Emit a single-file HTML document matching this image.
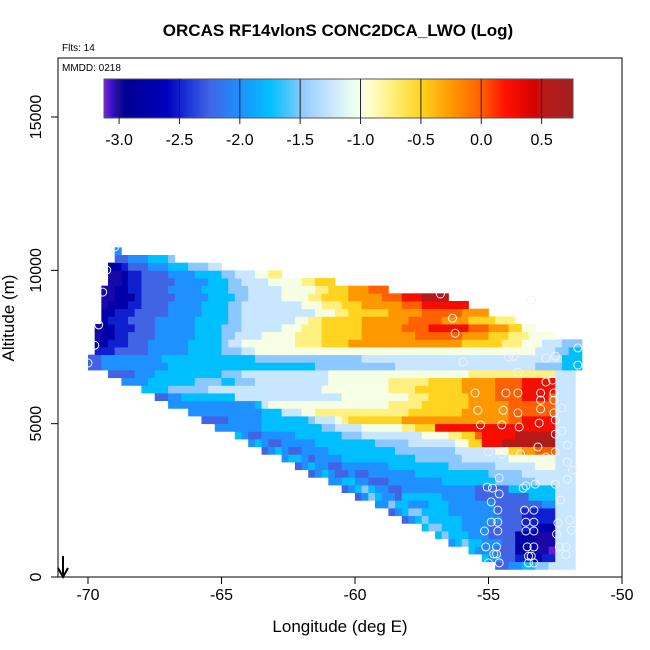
<!DOCTYPE html>
<html><head><meta charset="utf-8">
<style>
html,body{margin:0;padding:0;background:#fff;}
svg{display:block;font-family:"Liberation Sans",Arial,sans-serif;}
</style></head>
<body>
<svg id="chart" width="650" height="650" viewBox="0 0 650 650" xmlns="http://www.w3.org/2000/svg">
  <rect x="0" y="0" width="650" height="650" fill="#fff"/>
  <text x="338" y="36" text-anchor="middle" font-size="17" font-weight="bold">ORCAS RF14vlonS CONC2DCA_LWO (Log)</text>
  <text x="62" y="51" font-size="10">Flts: 14</text>
  <g id="cells"></g>
  <g id="circles"></g>
  <rect x="58" y="58" width="564" height="519" fill="none" stroke="#000" stroke-width="1"/>
  <text x="62" y="71" font-size="10">MMDD: 0218</text>
  <g id="cbar"></g>
  <g id="xaxis"></g>
  <g id="yaxis"></g>
  <text x="340" y="632" text-anchor="middle" font-size="17">Longitude (deg E)</text>
  <text x="0" y="0" transform="translate(14,318) rotate(-90)" text-anchor="middle" font-size="17">Altitude (m)</text>
  <g>
    <line x1="63" y1="556" x2="63" y2="576" stroke="#000" stroke-width="2"/>
    <polyline points="58,568 63,577 68,568" fill="none" stroke="#000" stroke-width="2"/>
  </g>
</svg>
<script>
// ---- data ----
const xTicks = [-70, -65, -60, -55, -50];
const yTicks = [0, 5000, 10000, 15000];
const cbarTicks = [-3.0, -2.5, -2.0, -1.5, -1.0, -0.5, 0.0, 0.5];
const lonStart = -70;
const lonStep = 0.25;
const altStep = 250;
// level chars: 0..F => -3.0 + 0.25*idx ; P => -3.1
// each row (alt bin index from 0): [startColumn, run-length "level*count" tokens]
const rowData = [
  null,
  [61, "3*2 4*2 5*2 6*2 7*4"],
  [59, "5*1 4*2 3*2 2*2 1*2 2*2 7*3"],
  [57, "5*1 4*3 3*3 1*3 0*2 P*1 7*3"],
  [54, "4*1 5*1 6*1 5*2 4*3 3*2 1*3 0*3 7*3"],
  [52, "5*1 6*1 5*3 4*3 3*4 1*3 0*3 7*3"],
  [50, "5*1 6*2 5*3 4*4 3*5 2*2 1*3 7*3"],
  [47, "3*1 4*1 5*1 6*1 5*5 4*6 3*3 2*5 7*3"],
  [45, "3*1 4*1 5*1 6*2 5*4 4*7 3*4 2*5 7*3"],
  [43, "4*2 6*1 5*2 4*3 5*3 4*7 3*7 4*2 7*3"],
  [40, "3*1 4*1 6*1 5*1 4*2 3*1 5*6 4*5 3*8 5*4 7*3"],
  [38, "3*1 4*1 5*1 6*1 5*1 4*2 3*2 4*11 3*5 5*7 7*3"],
  [36, "4*2 5*2 4*2 3*3 4*8 5*8 6*6 7*3 7*3"],
  [33, "3*1 4*1 5*1 4*1 3*2 4*1 3*2 4*7 5*11 6*5 7*5 7*3"],
  [31, "3*1 4*1 5*1 4*2 3*2 4*7 5*9 6*7 7*6 8*3 7*3"],
  [29, "4*1 5*2 4*1 3*1 4*4 5*11 6*7 7*7 8*7 7*3"],
  [26, "3*1 4*1 5*1 4*1 3*2 4*4 5*10 6*9 7*6 8*2 A*2 B*2 C*3 7*3"],
  [24, "4*1 5*1 4*1 3*2 4*5 5*9 6*5 7*7 8*2 A*2 D*3 E*5 F*3 7*3"],
  [22, "5*1 4*1 3*2 4*5 5*7 6*3 7*9 8*4 9*2 A*2 C*1 D*5 E*6 7*3"],
  [19, "4*7 5*9 6*2 7*4 8*6 9*2 A*3 D*18 7*3"],
  [17, "3*4 4*5 5*7 6*1 7*3 8*1 9*1 A*8 B*16 C*2 D*5 7*3"],
  [15, "4*11 5*3 7*3 8*2 9*14 A*8 B*7 C*7 7*3"],
  [12, "4*13 5*1 7*1 8*18 9*5 A*7 B*6 C*7 7*3"],
  [10, "3*2 4*2 5*8 7*16 8*10 9*3 A*6 B*4 C*4 D*4 C*1 7*3"],
  [8, "5*4 6*6 7*2 7*15 8*10 9*4 A*7 B*5 C*4 D*5 7*3"],
  [5, "4*4 5*7 6*4 5*2 6*3 7*11 8*9 9*6 A*5 B*5 C*4 D*5 7*3"],
  [3, "3*4 4*3 5*10 6*3 7*13 8*21 9*13 7*3"],
  [0, "3*2 4*10 5*8 5*14 6*12 7*21 6*4 5*3"],
  [0, "3*2 4*9 5*9 5*5 6*16 7*30 5*3"],
  [1, "2*3 3*5 4*6 5*5 6*3 7*2 8*42 7*3 6*2 5*2"],
  [1, "1*2 2*3 3*3 4*6 5*5 6*1 7*2 8*8 9*4 A*4 B*17 A*6 9*3 8*3 7*3 6*3"],
  [1, "0*1 1*2 2*2 3*4 4*6 5*4 6*2 7*4 8*5 9*4 A*6 B*8 C*7 B*4 A*3 9*3 8*4"],
  [1, "0*1 1*2 2*3 3*3 4*6 5*4 6*3 7*6 8*3 9*3 A*6 B*6 C*4 D*6 C*3 B*3 A*2 8*2"],
  [2, "1*1 2*3 3*4 4*6 5*4 5*1 6*2 7*8 8*2 9*2 A*6 B*7 C*5 B*4 A*4 9*3"],
  [2, "1*2 2*3 3*5 4*5 5*3 5*1 6*2 7*11 8*3 9*2 A*6 B*5 C*6 B*4"],
  [2, "0*1 1*3 2*2 3*4 4*5 5*3 5*1 6*2 7*9 8*3 9*3 A*3 B*6 C*3 D*7"],
  [2, "0*2 1*3 2*1 3*5 4*5 5*2 5*2 6*2 7*5 8*4 9*2 A*4 B*5 C*3 D*3 E*4"],
  [2, "0*2 1*2 2*2 3*4 4*5 5*3 5*1 6*3 7*5 8*5 9*2 A*3 B*3 C*3"],
  [3, "0*2 1*1 2*2 3*5 4*5 5*2 5*1 6*2 7*4 8*5 9*2 A*3"],
  [3, "0*2 1*1 2*2 3*4 4*4 5*4 6*2 7*3 8*2 9*2"],
  [3, "1*2 2*1 3*3 4*3 5*3 6*3 7*2"],
  [4, "3*2 4*3 5*3 6*1"],
  [4, "4*1"]
];
const obsLon = [-69.3,-69.45,-69.6,-69.75,-70.0,-69.0,-56.8,-56.35,-56.25,-55.95,-54.25,-54.05,-53.9,-52.85,-52.5,-51.65,-51.65,-52.85,-52.6,-53.05,-52.55,-55.5,-54.35,-53.9,-53.05,-52.55,-55.4,-54.45,-53.9,-53.05,-52.55,-55.3,-54.5,-53.85,-53.1,-52.5,-52.5,-55.0,-54.5,-53.8,-53.15,-52.5,-52.85,-52.05,-54.6,-53.6,-55.05,-52.5,-52.05,-54.85,-54.6,-53.7,-53.25,-54.9,-54.65,-53.65,-53.3,-52.3,-54.9,-54.65,-53.6,-53.3,-52.4,-51.95,-55.15,-54.65,-53.6,-53.3,-52.45,-55.1,-54.7,-53.55,-53.3,-52.35,-54.8,-54.7,-53.5,-53.4,-52.1,-55.0,-54.6,-53.5,-53.3,-52.1,-52.25,-52.05,-51.85,-51.9,-52.25,-53.4];
const obsAlt = [10010,9290,8220,7560,6980,10760,9230,8440,7950,7010,7170,7200,6680,7140,7200,7470,6910,6360,6420,6000,6000,6000,6000,6000,5770,5770,5440,5440,5350,5480,5350,4960,4960,4890,5020,5120,4660,4080,4010,4010,4240,4080,3910,3750,3230,2970,2930,3030,3190,2900,2710,2900,3030,2450,2180,2180,2180,2510,1790,1790,1790,1790,1760,1860,1500,1500,1500,1500,1400,980,980,980,980,980,750,750,680,680,980,460,460,460,460,720,4760,4300,3490,1530,5510,9030];

// ---- scales ----
function xScale(lon){ return 88 + (lon + 70) * 26.7; }
function yScale(alt){ return 577 - alt * (153.33 / 5000); }
const cbX0 = 104, cbX1 = 573, cbY0 = 79, cbY1 = 118, cbMin = -3.125, cbMax = 0.76;
function cbScale(v){ return cbX0 + (v - cbMin) / (cbMax - cbMin) * (cbX1 - cbX0); }

const stops = [
  [-3.125,[128,32,232]],[-3.05,[48,16,192]],[-2.95,[0,0,144]],[-2.6,[0,0,192]],
  [-2.45,[24,48,216]],[-2.25,[64,100,228]],[-2.0,[30,144,255]],[-1.75,[0,191,255]],
  [-1.55,[96,200,255]],[-1.5,[140,200,255]],[-1.25,[200,230,255]],[-1.05,[236,255,240]],
  [-0.95,[255,255,216]],[-0.75,[255,240,128]],[-0.5,[255,212,32]],[-0.25,[255,152,0]],
  [0.0,[255,96,0]],[0.2,[255,16,0]],[0.45,[208,0,0]],[0.5,[184,24,24]],[0.8,[160,32,32]]
];
function cmap(v){
  if (v <= stops[0][0]) return 'rgb(' + stops[0][1].join(',') + ')';
  for (let i = 1; i < stops.length; i++){
    if (v <= stops[i][0]){
      const a = stops[i-1], b = stops[i];
      const t = (v - a[0]) / (b[0] - a[0]);
      const c = a[1].map((q, k) => Math.round(q + (b[1][k] - q) * t));
      return 'rgb(' + c.join(',') + ')';
    }
  }
  return 'rgb(' + stops[stops.length-1][1].join(',') + ')';
}
function levelValue(ch){
  if (ch === 'P') return -3.1;
  return -3.0 + 0.25 * parseInt(ch, 16);
}

const NS = 'http://www.w3.org/2000/svg';
function mk(tag, attrs){
  const e = document.createElementNS(NS, tag);
  for (const k in attrs) e.setAttribute(k, attrs[k]);
  return e;
}

// ---- heatmap cells ----
const cellsG = document.getElementById('cells');
rowData.forEach((row, r) => {
  if (!row) return;
  let col = row[0];
  row[1].split(' ').forEach(tok => {
    const parts = tok.split('*');
    const v = levelValue(parts[0]);
    const n = parseInt(parts[1], 10);
    for (let k = 0; k < n; k++){
      const lon = lonStart + lonStep * col;
      const x0 = xScale(lon), x1 = xScale(lon + lonStep);
      const y0 = yScale((r + 1) * altStep), y1 = yScale(r * altStep);
      const rect = mk('rect', {x: x0.toFixed(2), y: y0.toFixed(2), width: (x1 - x0 + 0.4).toFixed(2), height: (y1 - y0 + 0.4).toFixed(2), fill: cmap(v)});
      
      
      cellsG.appendChild(rect);
      col++;
    }
  });
});

// ---- observation circles ----
const circG = document.getElementById('circles');
obsLon.forEach((lon, i) => {
  const c = mk('circle', {cx: xScale(lon).toFixed(1), cy: yScale(obsAlt[i]).toFixed(1), r: 4, fill: 'none', stroke: '#eef4ff', 'stroke-width': 1});
  
  
  circG.appendChild(c);
});

// ---- colorbar ----
const cb = document.getElementById('cbar');
const nSeg = 235;
for (let i = 0; i < nSeg; i++){
  const v0 = cbMin + (cbMax - cbMin) * i / nSeg;
  const v1 = cbMin + (cbMax - cbMin) * (i + 1) / nSeg;
  const x0 = cbScale(v0), x1 = cbScale(v1);
  const s = mk('rect', {x: x0.toFixed(2), y: cbY0, width: (x1 - x0 + 0.3).toFixed(2), height: cbY1 - cbY0, fill: cmap((v0 + v1) / 2)});
  
  
  cb.appendChild(s);
}
const cbFrame = mk('rect', {x: cbX0, y: cbY0, width: cbX1 - cbX0, height: cbY1 - cbY0, fill: 'none', stroke: '#555', 'stroke-width': 1});


cb.appendChild(cbFrame);
cbarTicks.forEach(v => {
  const x = cbScale(v);
  const ln = mk('line', {x1: x, y1: cbY0, x2: x, y2: cbY1 + 6, stroke: '#222', 'stroke-width': 1});
  
  
  cb.appendChild(ln);
  const t = mk('text', {x: x, y: 145, 'text-anchor': 'middle', 'font-size': 16});
  t.textContent = v.toFixed(1);
  
  
  cb.appendChild(t);
});

// ---- axes ----
const xa = document.getElementById('xaxis');
xTicks.forEach(v => {
  const x = xScale(v);
  const ln = mk('line', {x1: x, y1: 577, x2: x, y2: 584, stroke: '#000'});
  
  
  xa.appendChild(ln);
  const t = mk('text', {x: x, y: 600, 'text-anchor': 'middle', 'font-size': 16});
  t.textContent = String(v);
  
  
  xa.appendChild(t);
});
const ya = document.getElementById('yaxis');
yTicks.forEach(v => {
  const y = yScale(v);
  const ln = mk('line', {x1: 51, y1: y, x2: 58, y2: y, stroke: '#000'});
  
  
  ya.appendChild(ln);
  const t = mk('text', {x: 0, y: 0, transform: 'translate(41,' + y + ') rotate(-90)', 'text-anchor': 'middle', 'font-size': 16});
  t.textContent = String(v);
  
  
  ya.appendChild(t);
});
</script>
</body></html>
